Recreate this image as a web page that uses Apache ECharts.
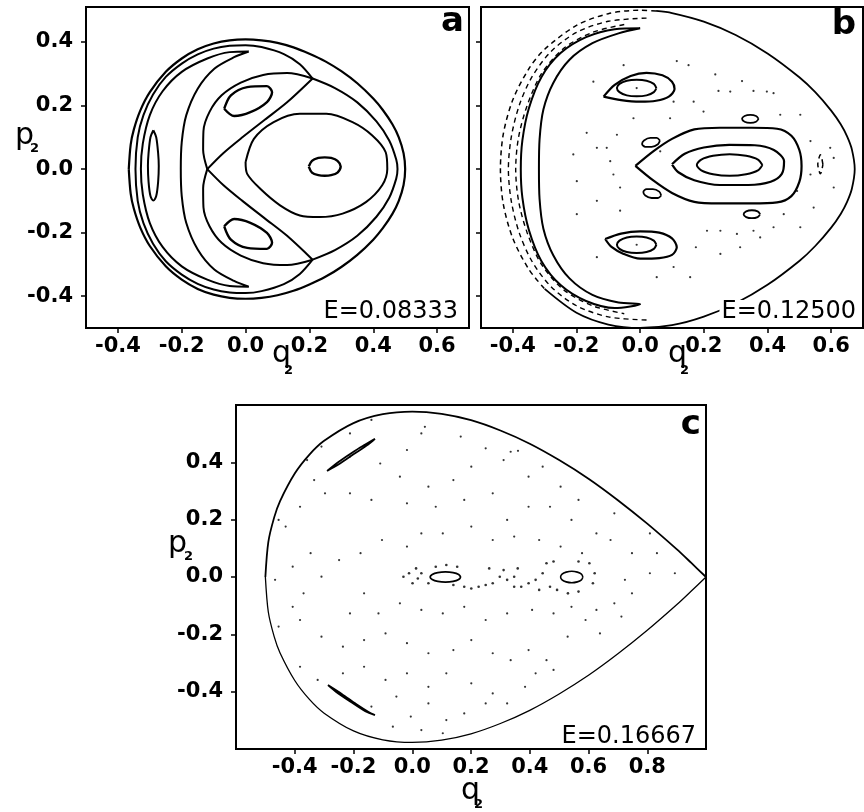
<!DOCTYPE html>
<html><head><meta charset="utf-8">
<script src="https://cdn.jsdelivr.net/npm/echarts@6/dist/echarts.min.js"></script>
<style>html,body{margin:0;padding:0;background:#fff}#chart{width:864px;height:812px}</style>
</head><body><div id="chart"></div>
<script>
// ---------- tick values ----------
var ticksABx = [-0.4, -0.2, 0, 0.2, 0.4, 0.6];
var ticksABy = [-0.4, -0.2, 0, 0.2, 0.4];
var ticksCx = [-0.4, -0.2, 0, 0.2, 0.4, 0.6, 0.8];
var ticksCy = [-0.4, -0.2, 0, 0.2, 0.4];
var energyLabels = ['E=0.08333', 'E=0.12500', 'E=0.16667'];
var panelLetters = ['a', 'b', 'c'];

// ---------- panel a (E = 0.08333) ----------
var aBoundary = [[-0.366,0],[-0.36,0.077],[-0.35,0.125],[-0.33,0.184],[-0.3,0.242],[-0.25,0.306],[-0.2,0.348],[-0.15,0.377],[-0.1,0.395],[-0.05,0.405],[0,0.408],[0.05,0.405],[0.1,0.397],[0.15,0.383],[0.2,0.363],[0.25,0.339],[0.3,0.308],[0.35,0.27],[0.4,0.222],[0.43,0.186],[0.46,0.141],[0.48,0.1],[0.495,0.05],[0.5,0],
[0.495,-0.05],[0.48,-0.1],[0.46,-0.141],[0.43,-0.186],[0.4,-0.222],[0.35,-0.27],[0.3,-0.308],[0.25,-0.339],[0.2,-0.363],[0.15,-0.383],[0.1,-0.397],[0.05,-0.405],[0,-0.408],[-0.05,-0.405],[-0.1,-0.395],[-0.15,-0.377],[-0.2,-0.348],[-0.25,-0.306],[-0.3,-0.242],[-0.33,-0.184],[-0.35,-0.125],[-0.36,-0.077],[-0.366,0]];
var aBand = [[0.21,0.285],[0.17,0.33],[0.12,0.362],[0.05,0.384],[0,0.39],[-0.05,0.388],[-0.1,0.379],[-0.15,0.361],[-0.2,0.332],[-0.25,0.29],[-0.29,0.235],[-0.32,0.17],[-0.338,0.1],[-0.345,0],[-0.338,-0.1],[-0.32,-0.17],[-0.29,-0.235],[-0.25,-0.29],[-0.2,-0.332],[-0.15,-0.361],[-0.1,-0.379],[-0.05,-0.388],[0,-0.39],[0.05,-0.384],[0.12,-0.362],[0.17,-0.33],[0.21,-0.285]];
var aArcRight = [[0.21,-0.285],[0.28,-0.255],[0.35,-0.21],[0.41,-0.15],[0.45,-0.09],[0.472,-0.03],[0.476,0],[0.472,0.03],[0.45,0.09],[0.41,0.15],[0.35,0.21],[0.28,0.255],[0.21,0.285]];
var aArcUpperOuter = [[-0.12,0],[-0.133,0.06],[-0.132,0.12],[-0.113,0.18],[-0.075,0.232],[-0.015,0.272],[0.055,0.296],[0.13,0.302],[0.21,0.285]];
var aArcUpperInner = [[-0.12,0],[-0.07,0.05],[-0.01,0.1],[0.06,0.155],[0.13,0.21],[0.21,0.285]];
var aArcLowerOuter = [[-0.12,0],[-0.133,-0.06],[-0.132,-0.12],[-0.113,-0.18],[-0.075,-0.232],[-0.015,-0.272],[0.055,-0.296],[0.13,-0.302],[0.21,-0.285]];
var aArcLowerInner = [[-0.12,0],[-0.07,-0.05],[-0.01,-0.1],[0.06,-0.155],[0.13,-0.21],[0.21,-0.285]];
var aCrescent = [[0.01,0.37],[-0.036,0.352],[-0.098,0.316],[-0.15,0.253],[-0.186,0.169],[-0.2,0.085],[-0.203,0],[-0.2,-0.085],[-0.186,-0.169],[-0.15,-0.253],[-0.098,-0.316],[-0.036,-0.352],[0.01,-0.37],[-0.05,-0.368],[-0.12,-0.348],[-0.2,-0.306],[-0.26,-0.245],[-0.3,-0.17],[-0.322,-0.08],[-0.328,0],[-0.322,0.08],[-0.3,0.17],[-0.26,0.245],[-0.2,0.306],[-0.12,0.348],[-0.05,0.368],[0.01,0.37]];
var aLeftIsland = [[-0.289,0.122],[-0.28,0.1],[-0.274,0.05],[-0.272,0.01],[-0.274,-0.04],[-0.28,-0.085],[-0.289,-0.099],[-0.298,-0.085],[-0.304,-0.04],[-0.306,0.01],[-0.304,0.05],[-0.298,0.1],[-0.289,0.122]];
var aUpperIsland = [[-0.067,0.19],[-0.046,0.232],[0.005,0.258],[0.067,0.261],[0.083,0.242],[0.067,0.211],[0.015,0.179],[-0.036,0.167],[-0.067,0.19]];
var aLowerIsland = [[-0.067,-0.18],[-0.046,-0.222],[0.005,-0.248],[0.067,-0.251],[0.083,-0.232],[0.067,-0.201],[0.015,-0.169],[-0.036,-0.157],[-0.067,-0.18]];
var aRightOval = [[0,0.022],[0.026,0.095],[0.088,0.148],[0.17,0.174],[0.253,0.174],[0.335,0.148],[0.397,0.106],[0.439,0.053],[0.444,0],[0.428,-0.051],[0.377,-0.104],[0.304,-0.14],[0.232,-0.151],[0.17,-0.146],[0.108,-0.114],[0.046,-0.062],[0.005,-0.015],[0,0.022]];
var aRightCore = [[0.198,0.008],[0.208,0.026],[0.228,0.035],[0.248,0.037],[0.268,0.035],[0.288,0.026],[0.298,0.008],[0.288,-0.011],[0.268,-0.019],[0.248,-0.021],[0.228,-0.019],[0.208,-0.011],[0.198,0.008]];

// ---------- panel b (E = 0.12500) ----------
var bBoundarySolid = [[0.05,0.4976],[0.1,0.491],[0.2,0.464],[0.3,0.422],[0.4,0.364],[0.5,0.289],[0.55,0.242],[0.6,0.184],[0.63,0.141],[0.65,0.103],[0.665,0.062],[0.674,0],[0.665,-0.062],[0.65,-0.103],[0.63,-0.141],[0.6,-0.184],[0.55,-0.242],[0.5,-0.289],[0.4,-0.364],[0.3,-0.422],[0.2,-0.464],[0.1,-0.491],[0,-0.5],[-0.1,-0.489],[-0.2,-0.452],[-0.3,-0.377]];
var bBoundaryDashed = [[0.05,0.4976],[0,0.5],[-0.1,0.489],[-0.2,0.452],[-0.3,0.377],[-0.35,0.315],[-0.4,0.218],[-0.43,0.11],[-0.439,0],[-0.43,-0.11],[-0.4,-0.218],[-0.35,-0.315],[-0.3,-0.377]];
var bArc1 = [[0.02,0.475],[-0.1,0.465],[-0.2,0.43],[-0.28,0.37],[-0.34,0.29],[-0.38,0.2],[-0.405,0.1],[-0.414,0],[-0.405,-0.1],[-0.38,-0.2],[-0.34,-0.29],[-0.28,-0.37],[-0.2,-0.43],[-0.1,-0.465],[0.02,-0.475]];
var bArc2 = [[-0.05,0.455],[-0.15,0.43],[-0.24,0.38],[-0.31,0.3],[-0.355,0.2],[-0.382,0.1],[-0.391,0],[-0.382,-0.1],[-0.355,-0.2],[-0.31,-0.3],[-0.24,-0.38],[-0.15,-0.43],[-0.05,-0.455]];
var bCrescent = [[0,0.443],[-0.068,0.427],[-0.15,0.396],[-0.222,0.344],[-0.273,0.271],[-0.304,0.1875],[-0.316,0.094],[-0.318,0],[-0.316,-0.094],[-0.304,-0.1875],[-0.273,-0.271],[-0.222,-0.344],[-0.15,-0.396],[-0.068,-0.42],[0,-0.425],[-0.08,-0.437],[-0.17,-0.415],[-0.25,-0.365],[-0.31,-0.29],[-0.35,-0.19],[-0.37,-0.09],[-0.375,0],[-0.37,0.09],[-0.35,0.19],[-0.31,0.29],[-0.25,0.365],[-0.17,0.415],[-0.08,0.44],[0,0.443]];
var bLoopOuter = [[-0.015,0.01],[0.04,0.055],[0.1,0.095],[0.17,0.125],[0.25,0.13],[0.35,0.13],[0.43,0.127],[0.475,0.105],[0.5,0.06],[0.507,0.01],[0.5,-0.04],[0.475,-0.085],[0.43,-0.105],[0.35,-0.108],[0.25,-0.108],[0.17,-0.103],[0.1,-0.075],[0.04,-0.035],[-0.015,0.01]];
var bLoopMiddle = [[0.1,0.015],[0.14,0.048],[0.2,0.068],[0.28,0.076],[0.36,0.075],[0.42,0.06],[0.452,0.025],[0.445,-0.015],[0.41,-0.04],[0.34,-0.05],[0.25,-0.05],[0.17,-0.035],[0.12,-0.01],[0.1,0.015]];
var bLoopCore = [[0.384,0.013],[0.37,0.03],[0.333,0.042],[0.281,0.047],[0.229,0.042],[0.192,0.03],[0.178,0.013],[0.192,-0.004],[0.229,-0.016],[0.281,-0.021],[0.333,-0.016],[0.37,-0.004],[0.384,0.013]];
var bUpperOuter = [[-0.115,0.228],[-0.08,0.265],[-0.03,0.293],[0.02,0.303],[0.07,0.295],[0.1,0.275],[0.108,0.252],[0.09,0.228],[0.05,0.215],[0,0.212],[-0.06,0.217],[-0.115,0.228]];
var bUpperInner = [[0.051,0.255],[0.043,0.268],[0.02,0.278],[-0.011,0.281],[-0.042,0.278],[-0.065,0.268],[-0.073,0.255],[-0.065,0.242],[-0.042,0.232],[-0.011,0.229],[0.02,0.232],[0.043,0.242],[0.051,0.255]];
var bLowerOuter = [[-0.11,-0.22],[-0.06,-0.203],[0,-0.196],[0.06,-0.2],[0.1,-0.218],[0.115,-0.246],[0.1,-0.27],[0.06,-0.28],[0,-0.282],[-0.052,-0.267],[-0.09,-0.245],[-0.11,-0.22]];
var bLowerInner = [[0.051,-0.238],[0.043,-0.225],[0.02,-0.215],[-0.011,-0.212],[-0.042,-0.215],[-0.065,-0.225],[-0.073,-0.238],[-0.065,-0.251],[-0.042,-0.261],[-0.011,-0.264],[0.02,-0.261],[0.043,-0.251],[0.051,-0.238]];
var bSmallUpperRight = [[0.372,0.158],[0.364,0.167],[0.346,0.1705],[0.328,0.167],[0.32,0.158],[0.328,0.149],[0.346,0.1455],[0.364,0.149],[0.372,0.158]];
var bSmallLowerRight = [[0.377,-0.142],[0.369,-0.133],[0.351,-0.1295],[0.333,-0.133],[0.325,-0.142],[0.333,-0.151],[0.351,-0.1545],[0.369,-0.151],[0.377,-0.142]];
var bSmallUpperLeft = [[0.062,0.09],[0.052,0.098],[0.032,0.098],[0.012,0.09],[0.006,0.079],[0.016,0.07],[0.036,0.07],[0.056,0.078],[0.062,0.09]];
var bSmallLowerLeft = [[0.066,-0.083],[0.056,-0.091],[0.036,-0.091],[0.016,-0.083],[0.01,-0.072],[0.02,-0.063],[0.04,-0.063],[0.06,-0.071],[0.066,-0.083]];
var bSmallFarRight = [[0.574,0.015],[0.57,0.036],[0.566,0.045],[0.562,0.036],[0.558,0.015],[0.562,-0.006],[0.566,-0.015],[0.57,-0.006],[0.574,0.015]];
var bDots = [[-0.052,0.327],[0.115,0.34],[0.152,0.327],[0.236,0.298],[0.32,0.277],[-0.147,0.275],[0.246,0.246],[0.283,0.244],[0.356,0.246],[0.398,0.244],[0.419,0.239],[0.168,0.212],[0.105,0.212],[-0.168,0.114],[-0.073,0.108],[-0.105,0.067],[-0.136,0.067],[-0.21,0.046],[-0.094,0.025],[-0.084,-0.017],[-0.063,-0.058],[-0.199,-0.038],[-0.136,-0.1],[-0.063,-0.131],[-0.199,-0.142],[0.094,0.16],[0.199,0.181],[0.44,0.171],[0.503,0.171],[0.535,0.088],[0.597,0.067],[0.608,0.035],[0.535,-0.017],[0.608,-0.058],[0.493,-0.069],[0.545,-0.121],[0.451,-0.142],[0.21,-0.194],[0.252,-0.194],[0.304,-0.204],[0.356,-0.194],[0.419,-0.183],[0.377,-0.215],[0.503,-0.183],[0.175,-0.246],[0.252,-0.267],[0.314,-0.246],[0.105,-0.308],[0.157,-0.34],[0.052,-0.34],[-0.136,-0.277],[-0.021,0.16],[0.063,0.056],[-0.011,0.255],[-0.011,-0.238]];

// ---------- panel c (E = 0.16667) ----------
var cBoundaryUpper = [[-0.5,0],[-0.49,0.122],[-0.47,0.208],[-0.45,0.265],[-0.4,0.361],[-0.35,0.427],[-0.3,0.475],[-0.2,0.537],[-0.1,0.568],[0,0.577],[0.1,0.569],[0.2,0.547],[0.3,0.511],[0.4,0.465],[0.5,0.408],[0.6,0.343],[0.7,0.268],[0.8,0.186],[0.9,0.097],[0.95,0.049],[1.0,0]];
var cBoundaryLower = [[1.0,0],[0.95,-0.049],[0.9,-0.097],[0.8,-0.186],[0.7,-0.268],[0.6,-0.343],[0.5,-0.408],[0.4,-0.465],[0.3,-0.511],[0.2,-0.547],[0.1,-0.569],[0,-0.577],[-0.1,-0.568],[-0.2,-0.537],[-0.3,-0.475],[-0.35,-0.427],[-0.4,-0.361],[-0.45,-0.265],[-0.47,-0.208],[-0.49,-0.122],[-0.5,0]];
var cLensUpper = [[-0.29,0.37],[-0.25,0.402],[-0.2,0.437],[-0.16,0.462],[-0.127,0.482],[-0.15,0.462],[-0.2,0.428],[-0.25,0.393],[-0.29,0.37]];
var cLensLower = [[-0.287,-0.377],[-0.24,-0.408],[-0.19,-0.444],[-0.15,-0.47],[-0.127,-0.482],[-0.16,-0.468],[-0.21,-0.435],[-0.26,-0.4],[-0.287,-0.377]];
var cEllipseLeft = [[0.165,0],[0.158,0.009],[0.139,0.0156],[0.113,0.018],[0.087,0.0156],[0.068,0.009],[0.061,0],[0.068,-0.009],[0.087,-0.0156],[0.113,-0.018],[0.139,-0.0156],[0.158,-0.009],[0.165,0]];
var cEllipseRight = [[0.581,0],[0.576,0.01],[0.562,0.017],[0.543,0.02],[0.524,0.017],[0.51,0.01],[0.505,0],[0.51,-0.01],[0.524,-0.017],[0.543,-0.02],[0.562,-0.017],[0.576,-0.01],[0.581,0]];
var cDotsCore = [[-0.03,0.001],[-0.011,0.013],[0.001,-0.022],[0.019,-0.005],[0.031,0.013],[0.013,0.03],[0.177,-0.034],[0.201,-0.04],[0.226,-0.034],[0.25,-0.028],[0.274,-0.022],[0.298,0.001],[0.262,0.03],[0.311,0.024],[0.323,-0.01],[0.347,0.001],[0.359,0.03],[0.371,-0.034],[0.396,-0.022],[0.42,-0.01],[0.444,0.013],[0.457,0.048],[0.481,0.054],[0.566,0.054],[0.603,0.048],[0.621,0.013],[0.615,-0.022],[0.566,-0.051],[0.53,-0.057],[0.493,-0.045],[0.469,-0.034],[0.432,-0.045],[0.347,-0.034],[0.153,0.036],[0.116,0.042],[0.08,0.036],[0.055,-0.022],[0.14,-0.028]];
var cDotsSea = [[0.043,0.524],[-0.018,0.443],[0.25,0.449],[0.311,0.408],[0.335,0.437],[0.201,0.385],[-0.212,0.42],[-0.109,0.396],[-0.042,0.35],[0.055,0.315],[0.14,0.338],[0.274,0.292],[0.444,0.385],[0.396,0.35],[-0.334,0.338],[-0.297,0.292],[-0.382,0.245],[-0.431,0.176],[-0.212,0.292],[-0.139,0.269],[-0.018,0.257],[0.08,0.245],[0.177,0.269],[0.323,0.199],[0.396,0.245],[0.469,0.245],[0.542,0.199],[0.627,0.152],[0.675,0.129],[0.748,0.083],[0.833,0.083],[0.809,0.013],[0.894,0.013],[0.748,-0.057],[0.688,-0.092],[0.627,-0.115],[0.712,-0.138],[-0.346,0.083],[-0.407,0.036],[-0.467,-0.01],[-0.37,-0.057],[-0.309,0.001],[-0.249,0.059],[-0.176,0.083],[-0.103,0.129],[-0.018,0.106],[0.031,0.152],[0.104,0.152],[0.201,0.176],[0.274,0.129],[0.347,0.141],[0.432,0.129],[0.505,0.106],[0.578,0.083],[-0.164,-0.057],[-0.212,-0.127],[-0.115,-0.127],[-0.042,-0.092],[0.031,-0.115],[0.104,-0.127],[0.177,-0.104],[0.25,-0.15],[0.323,-0.127],[0.408,-0.115],[0.481,-0.127],[0.542,-0.104],[0.59,-0.15],[0.639,-0.197],[-0.455,-0.173],[-0.382,-0.15],[-0.309,-0.208],[-0.236,-0.243],[-0.164,-0.22],[-0.091,-0.197],[-0.018,-0.231],[0.055,-0.266],[0.14,-0.255],[0.201,-0.22],[0.274,-0.266],[0.335,-0.29],[0.396,-0.255],[0.457,-0.29],[0.529,-0.208],[-0.382,-0.313],[-0.322,-0.359],[-0.236,-0.336],[-0.164,-0.313],[-0.091,-0.359],[-0.018,-0.336],[0.055,-0.383],[0.116,-0.336],[0.201,-0.371],[0.274,-0.406],[0.323,-0.441],[0.384,-0.383],[0.42,-0.336],[0.481,-0.324],[-0.212,-0.429],[-0.139,-0.452],[-0.054,-0.417],[-0.005,-0.487],[0.055,-0.441],[0.116,-0.499],[0.177,-0.476],[0.25,-0.441],[-0.066,-0.522],[0.031,-0.534],[0.104,-0.545],[-0.407,-0.104],[0.809,0.152],[0.688,0.222],[0.566,0.269],[0.505,0.315],[-0.139,0.548],[-0.212,0.501],[-0.309,0.455],[-0.358,0.408],[0.031,0.501],[0.165,0.49],[0.36,0.44],[0.724,-0.01],[-0.455,0.199]];

// ---------- helpers ----------
var FONT = 'DejaVu Sans';
function fmt(v) { return (v < 0 ? '-' : '') + Math.abs(v).toFixed(1); }
var tickLabelStyle = { color: '#000', fontFamily: FONT, fontWeight: 'bold', fontSize: 21 };
function xAxisFor(g, min, max, ticks) {
  return { type: 'value', gridIndex: g, min: min, max: max, splitLine: { show: false },
    axisLine: { show: true, onZero: false, lineStyle: { color: '#000', width: 2 } },
    axisTick: { show: true, length: 5, customValues: ticks, lineStyle: { color: '#000', width: 1.5 } },
    axisLabel: Object.assign({ show: true, customValues: ticks, formatter: fmt, margin: 8 }, tickLabelStyle) };
}
function yAxisFor(g, min, max, ticks, showLabels) {
  return { type: 'value', gridIndex: g, min: min, max: max, splitLine: { show: false },
    axisLine: { show: true, onZero: false, lineStyle: { color: '#000', width: 2 } },
    axisTick: { show: true, length: 5, customValues: ticks, lineStyle: { color: '#000', width: 1.5 } },
    axisLabel: Object.assign({ show: showLabels, customValues: ticks, formatter: fmt, margin: 13 }, tickLabelStyle) };
}
function curve(g, data, width, dashed) {
  return { type: 'line', xAxisIndex: g, yAxisIndex: g, data: data, showSymbol: false, symbol: 'none',
    smooth: 0.3, silent: true, animation: false, clip: true,
    lineStyle: { color: '#000', width: width, type: dashed ? [5, 4] : 'solid' } };
}
function dots(g, data, size) {
  return { type: 'scatter', xAxisIndex: g, yAxisIndex: g, data: data, symbol: 'circle', symbolSize: size,
    silent: true, animation: false, itemStyle: { color: '#000' } };
}
function txt(x, y, s, size, weight, align, extra) {
  var st = { text: s, x: 0, y: 0, font: weight + ' ' + size + 'px "' + FONT + '"', fill: '#000',
    textAlign: align, align: align, textVerticalAlign: 'middle', verticalAlign: 'middle' };
  if (extra) { for (var k in extra) st[k] = extra[k]; }
  return { type: 'text', x: x, y: y, z: 100, silent: true, style: st };
}

var chart = echarts.init(document.getElementById('chart'), null, { renderer: 'canvas' });
var gridStyle = { show: true, borderColor: '#000', borderWidth: 2, backgroundColor: 'rgba(0,0,0,0)', containLabel: false, outerBoundsMode: 'none' };
chart.setOption({
  animation: false,
  backgroundColor: '#fff',
  grid: [
    Object.assign({ left: 86, top: 7, width: 383, height: 321 }, gridStyle),
    Object.assign({ left: 481, top: 7, width: 382, height: 321 }, gridStyle),
    Object.assign({ left: 236, top: 405, width: 470, height: 344 }, gridStyle)
  ],
  xAxis: [xAxisFor(0, -0.5, 0.7, ticksABx), xAxisFor(1, -0.5, 0.7, ticksABx), xAxisFor(2, -0.6, 1.0, ticksCx)],
  yAxis: [yAxisFor(0, -0.5, 0.51, ticksABy, true), yAxisFor(1, -0.5, 0.51, ticksABy, false), yAxisFor(2, -0.6, 0.6, ticksCy, true)],
  series: [
    curve(0, aBoundary, 2.2), curve(0, aBand, 2), curve(0, aArcRight, 2),
    curve(0, aArcUpperOuter, 2), curve(0, aArcUpperInner, 2), curve(0, aArcLowerOuter, 2), curve(0, aArcLowerInner, 2),
    curve(0, aCrescent, 2), curve(0, aLeftIsland, 2), curve(0, aUpperIsland, 2.4), curve(0, aLowerIsland, 2.4),
    curve(0, aRightOval, 2), curve(0, aRightCore, 2.4),
    curve(1, bBoundarySolid, 1.8), curve(1, bBoundaryDashed, 1.5, true), curve(1, bArc1, 1.4, true), curve(1, bArc2, 1.4, true),
    curve(1, bCrescent, 2), curve(1, bLoopOuter, 2.2), curve(1, bLoopMiddle, 2.2), curve(1, bLoopCore, 2),
    curve(1, bUpperOuter, 2.2), curve(1, bUpperInner, 2), curve(1, bLowerOuter, 2.2), curve(1, bLowerInner, 2),
    curve(1, bSmallUpperRight, 1.8), curve(1, bSmallLowerRight, 1.8), curve(1, bSmallUpperLeft, 1.8), curve(1, bSmallLowerLeft, 1.8),
    curve(1, bSmallFarRight, 1.5, true), dots(1, bDots, 2.2),
    curve(2, cBoundaryUpper, 1.8), curve(2, cBoundaryLower, 1.3),
    curve(2, cLensUpper, 1.8), curve(2, cLensLower, 1.8), curve(2, cEllipseLeft, 1.8), curve(2, cEllipseRight, 1.6),
    dots(2, cDotsCore, 2.6), dots(2, cDotsSea, 2.2)
  ],
  graphic: [
    txt(464, 22, panelLetters[0], 34, 'bold', 'right'),
    txt(856, 25, panelLetters[1], 34, 'bold', 'right'),
    txt(701, 425, panelLetters[2], 34, 'bold', 'right'),
    txt(458, 312, energyLabels[0], 24, 'normal', 'right'),
    txt(858, 312, energyLabels[1], 24, 'normal', 'right', { backgroundColor: '#fff', padding: [0, 2, 0, 2] }),
    txt(696, 737, energyLabels[2], 24, 'normal', 'right'),
    txt(15, 136, 'p', 30, 'normal', 'left'), txt(30, 149, '2', 13, 'bold', 'left'),
    txt(272, 354, 'q', 30, 'normal', 'left'), txt(284, 371, '2', 13, 'bold', 'left'),
    txt(668, 354, 'q', 30, 'normal', 'left'), txt(680, 371, '2', 13, 'bold', 'left'),
    txt(168, 544, 'p', 30, 'normal', 'left'), txt(184, 557, '2', 13, 'bold', 'left'),
    txt(461, 791, 'q', 30, 'normal', 'left'), txt(474, 805, '2', 13, 'bold', 'left')
  ]
});
</script>
</body></html>
